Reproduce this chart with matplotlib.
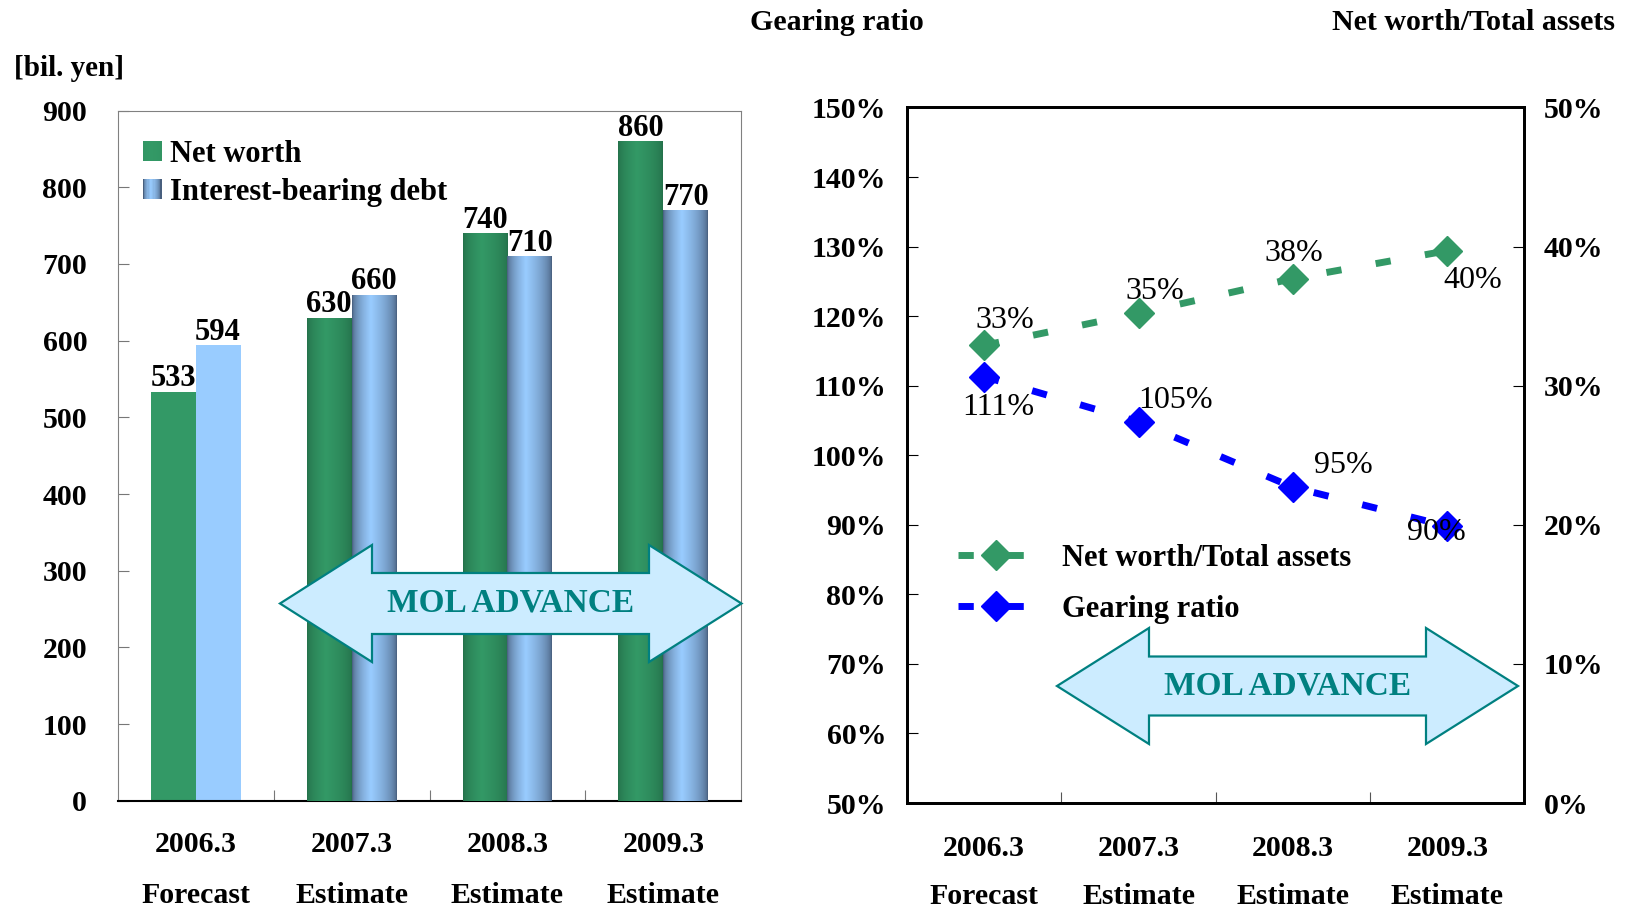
import numpy as np
import matplotlib
matplotlib.use("Agg")
import matplotlib.pyplot as plt
from matplotlib.patches import Rectangle, Polygon
from matplotlib.legend_handler import HandlerBase, HandlerLine2D
from matplotlib.ticker import FuncFormatter, MultipleLocator

plt.rcParams['font.family'] = ['Liberation Serif', 'DejaVu Serif']
plt.rcParams['font.weight'] = 'bold'

# data
years = ["2006.3", "2007.3", "2008.3", "2009.3"]
kinds = ["Forecast", "Estimate", "Estimate", "Estimate"]
net_worth = [533, 630, 740, 860]
debt = [594, 660, 710, 770]
gearing = [111.3, 104.8, 95.4, 89.8]        # % (left axis)
equity_ratio = [32.9, 35.2, 37.7, 39.7]     # % (right axis)

GREEN = np.array([0x33, 0x99, 0x66]) / 255
GREEN_DK = np.array([0x24, 0x70, 0x4a]) / 255
BLUE = np.array([0x99, 0xCC, 0xFF]) / 255
BLUE_DK = np.array([0x48, 0x5f, 0x7e]) / 255
TEAL = "#008080"
W, H = 1635, 909
FS = 21.5   # tick / category text


def cylinder(light, dark, n=64, peak=0.42):
    t = np.linspace(0, 1, n)
    w = 1 - np.abs(t - peak) / np.where(t < peak, peak, 1 - peak)
    w = np.clip(w, 0, 1) ** 0.55
    return dark[None, :] + (light - dark)[None, :] * w[:, None]


class GradientHandler(HandlerBase):
    def __init__(self, cols):
        super().__init__()
        self.cols = cols

    def create_artists(self, legend, orig_handle, xdescent, ydescent,
                       width, height, fontsize, trans):
        n = len(self.cols)
        arts = []
        for i, c in enumerate(self.cols):
            arts.append(Rectangle((-xdescent + width * i / n, -ydescent),
                                  width / n * 1.1, height, facecolor=c,
                                  edgecolor='none', transform=trans))
        return arts


class MarkerRightHandler(HandlerLine2D):
    # put the legend marker towards the right end of the line sample
    def get_xdata(self, legend, xdescent, ydescent, width, height, fontsize):
        xdata = np.array([-xdescent, -xdescent + width])
        return xdata, np.array([-xdescent + 0.68 * width])


def px(x, y):
    return x / W, 1 - y / H


def mol_arrow(fig, x0, x1, yc, hh, sh, hb_l, hb_r):
    pts = [(x0, yc), (hb_l, yc - hh), (hb_l, yc - sh), (hb_r, yc - sh),
           (hb_r, yc - hh), (x1, yc), (hb_r, yc + hh), (hb_r, yc + sh),
           (hb_l, yc + sh), (hb_l, yc + hh)]
    poly = Polygon([px(*p) for p in pts], closed=True, transform=fig.transFigure,
                   facecolor="#CCECFF", edgecolor=TEAL, linewidth=1.6, zorder=5)
    fig.patches.append(poly)
    cx, cy = px((hb_l + hb_r) / 2, yc)
    fig.text(cx, cy, "MOL ADVANCE", color=TEAL, fontsize=24, fontweight='bold',
             ha='center', va='center', zorder=6)


fig = plt.figure(figsize=(W / 100, H / 100), dpi=100)

# ---- left: bars ----
ax = fig.add_axes([0.072, 0.119, 0.3814, 0.7594])
x = np.arange(len(years))
bw = 0.288
b1 = ax.bar(x - bw / 2, net_worth, bw, color=GREEN, zorder=2)
b2 = ax.bar(x + bw / 2, debt, bw, color=BLUE, zorder=2)

g_cols = cylinder(GREEN, GREEN_DK)
b_cols = cylinder(BLUE, BLUE_DK)
for i in range(1, len(years)):
    for rect, cols in ((b1[i], g_cols), (b2[i], b_cols)):
        im = ax.imshow(cols[None, :, :], aspect='auto', zorder=3,
                       extent=[rect.get_x(), rect.get_x() + rect.get_width(),
                               0, rect.get_height()])
        im.set_clip_path(rect)

ax.bar_label(b1, padding=-1, fontsize=22, fontweight='bold')
ax.bar_label(b2, padding=-1, fontsize=22, fontweight='bold')
ax.set_xlim(-0.5, 3.5)
ax.set_ylim(0, 900)
ax.yaxis.set_major_locator(MultipleLocator(100))
ax.set_xticks([0.5, 1.5, 2.5])
ax.tick_params(axis='x', direction='in', length=8, color='#777777', labelbottom=False)
ax.tick_params(axis='y', direction='in', length=8, color='#777777', pad=22, labelsize=FS)
for s in ('top', 'right', 'left'):
    ax.spines[s].set_color('#808080')
ax.spines['bottom'].set_color('black')
ax.spines['bottom'].set_linewidth(1.5)

for i in x:
    ax.annotate(years[i], (i, 0), xycoords=ax.get_xaxis_transform(), xytext=(0, -44),
                textcoords='offset pixels', ha='center', va='center', fontsize=FS)
    ax.annotate(kinds[i], (i, 0), xycoords=ax.get_xaxis_transform(), xytext=(0, -95),
                textcoords='offset pixels', ha='center', va='center', fontsize=FS)

ax.legend([b1, b2], ["Net worth", "Interest-bearing debt"],
          handler_map={b1: GradientHandler(cylinder(GREEN, GREEN * 0.9 + GREEN_DK * 0.1, 16)),
                       b2: GradientHandler(cylinder(BLUE, BLUE_DK, 16))},
          loc='upper left', bbox_to_anchor=(0.04, 0.958), frameon=False,
          fontsize=22, handlelength=0.62, handleheight=0.62, handletextpad=0.28,
          labelspacing=0.3, borderpad=0, borderaxespad=0)
fig.text(*px(14, 68), "[bil. yen]", fontsize=21, ha='left', va='center')

# ---- right: ratios ----
axr = fig.add_axes([0.5547, 0.1166, 0.3777, 0.7652])
axr2 = axr.twinx()
l_gear, = axr.plot(x, gearing, color='#0000FF', lw=5, dashes=(2.2, 5.0),
                   marker='D', ms=15, dash_capstyle='butt', zorder=3)
l_eq, = axr2.plot(x, equity_ratio, color='#339966', lw=5, dashes=(2.2, 5.0),
                  marker='D', ms=15, dash_capstyle='butt', zorder=3)
axr.set_xlim(-0.5, 3.5)
axr.set_ylim(50, 150)
axr2.set_ylim(0, 50)
axr.yaxis.set_major_locator(MultipleLocator(10))
axr2.yaxis.set_major_locator(MultipleLocator(10))
pct = FuncFormatter(lambda v, p: f"{v:.0f}%")
axr.yaxis.set_major_formatter(pct)
axr2.yaxis.set_major_formatter(pct)
axr.set_xticks([0.5, 1.5, 2.5])
axr.tick_params(axis='x', direction='in', length=8, color='#555555', labelbottom=False)
axr.tick_params(axis='y', direction='in', length=8, pad=15, labelsize=FS)
axr2.tick_params(axis='y', direction='in', length=8, pad=14, labelsize=FS)
for a in (axr, axr2):
    for s in a.spines.values():
        s.set_linewidth(2)

gear_off = [(14, -31), (37, 21), (50, 22), (-11, -6)]
eq_off = [(21, 25), (16, 22), (1, 25), (25, -30)]
for i in x:
    axr.annotate(f"{gearing[i]:.0f}%", (i, gearing[i]), xytext=gear_off[i],
                 textcoords='offset pixels', ha='center', va='center',
                 fontsize=23, fontweight='normal', zorder=4)
    axr2.annotate(f"{equity_ratio[i]:.0f}%", (i, equity_ratio[i]), xytext=eq_off[i],
                  textcoords='offset pixels', ha='center', va='center',
                  fontsize=23, fontweight='normal', zorder=4)
    axr.annotate(years[i], (i, 0), xycoords=axr.get_xaxis_transform(), xytext=(0, -45),
                 textcoords='offset pixels', ha='center', va='center', fontsize=FS)
    axr.annotate(kinds[i], (i, 0), xycoords=axr.get_xaxis_transform(), xytext=(0, -93),
                 textcoords='offset pixels', ha='center', va='center', fontsize=FS)

axr2.legend([l_eq, l_gear], ["Net worth/Total assets", "Gearing ratio"],
            handler_map={l_eq: MarkerRightHandler(), l_gear: MarkerRightHandler()},
            loc='upper left', bbox_to_anchor=(0.083, 0.373), frameon=False,
            fontsize=22, handlelength=2.45, handletextpad=0.95, labelspacing=0.72,
            borderpad=0, borderaxespad=0)

fig.text(*px(837, 22), "Gearing ratio", fontsize=21.5, ha='center', va='center')
fig.text(*px(1615, 22), "Net worth/Total assets", fontsize=21.5, ha='right', va='center')

mol_arrow(fig, 280, 741.5, 603.5, 58.5, 30.5, 372, 649)
mol_arrow(fig, 1057, 1518, 686, 58, 29.5, 1149, 1426)

fig.savefig("out.png", dpi=100)
